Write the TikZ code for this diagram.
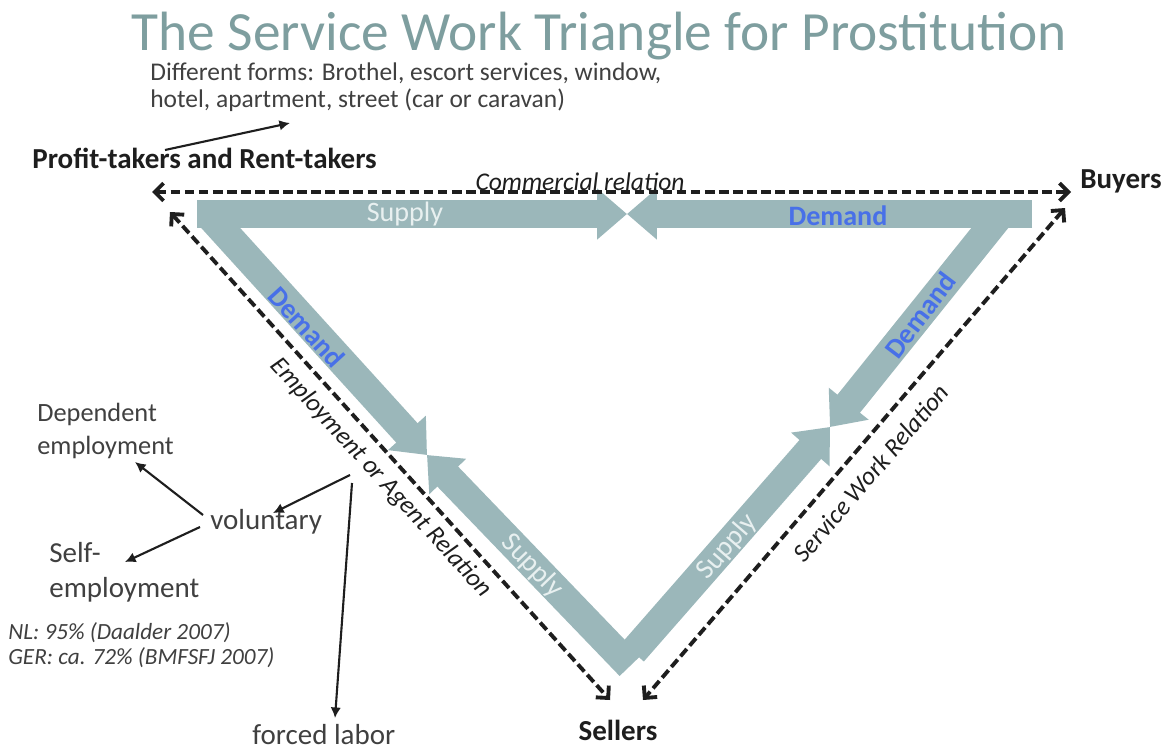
\documentclass[tikz,border=0pt]{standalone}
\usepackage{fontspec}
\setmainfont{Carlito}
\usetikzlibrary{arrows.meta}
\usetikzlibrary{positioning}

\definecolor{bandcol}{RGB}{155,183,186}
\definecolor{titlecol}{RGB}{126,158,159}
\definecolor{demandcol}{RGB}{72,112,232}
\definecolor{supplycol}{RGB}{232,240,240}
\definecolor{inkcol}{RGB}{30,30,30}

\tikzset{
  flow/.style={draw=bandcol, line width=16.4pt, -{Triangle[width=28pt,length=17pt]}},
  rel/.style={draw=inkcol, line width=2.2pt, dash pattern=on 5.5pt off 2.5pt,
    {Straight Barb[length=5pt,width=10pt]}-{Straight Barb[length=5pt,width=10pt]}},
  note/.style={draw=inkcol, line width=1.2pt, -{Latex[length=6pt,width=6pt]}},
  actor/.style={inner sep=0pt, text=inkcol, font=\bfseries\fontsize{16.5}{18}\selectfont},
  remark/.style={inner sep=0pt, text=inkcol!85, align=left},
  relname/.style={inner sep=0pt, text=inkcol, font=\itshape\fontsize{14.5}{16}\selectfont},
  dlabel/.style={inner sep=0pt, text=demandcol, font=\bfseries\fontsize{16}{18}\selectfont},
  slabel/.style={inner sep=0pt, text=supplycol, font=\fontsize{16}{18}\selectfont},
}

\begin{document}
\begin{tikzpicture}[x=0.02cm, y=-0.02cm]
  \fill[white] (0,0) rectangle (1168,753);
  \useasboundingbox (0,0) rectangle (1168,753);

  \node[inner sep=0pt, text=titlecol, font=\fontsize{31.5}{34}\selectfont] (title) at (599,36)
    {The Service Work Triangle for Prostitution} ; %

  % the three parties
  \node[actor, anchor=west] (profit) at (32,158) {Profit-takers and Rent-takers} ; %
  \node[actor, anchor=west] (buyers) at (1080,181) {Buyers} ; %
  \node[actor] (sellers) at (618,730) {Sellers} ; %
  \node[remark, anchor=west, font=\fontsize{14.5}{15.5}\selectfont] (forms) at (150,87)
    {Different forms: Brothel, escort services, window,\\hotel, apartment, street (car or caravan)} ; %

  % corners and meeting points of the bands
  \coordinate (tl) at (208,214);
  \coordinate (tr) at (1001,214);
  \coordinate (tm) at (627,214);
  \coordinate (tlb) at (197,214);
  \coordinate (trb) at (1032,214);
  \coordinate (lm) at (427,455);
  \coordinate (rm) at (830,427);
  \coordinate (bl) at (630,666);
  \coordinate (br) at (633,652);

  \draw[flow] (tlb) -- (tm);
  \draw[flow] (trb) -- (tm);
  \draw[flow] (tl) -- (lm);
  \draw[flow] (bl) -- (lm);
  \draw[flow] (tr) -- (rm);
  \draw[flow] (br) -- (rm);

  \node[slabel] (s1) at (405,214) {Supply} ; %
  \node[dlabel] (d1) at (838,216) {Demand} ; %
  \node[dlabel, rotate=-47.7] (d2) at (307,327) {Demand} ; %
  \node[slabel, rotate=-46] (s2) at (532,566) {Supply} ; %
  \node[dlabel, rotate=52.9] (d3) at (920,315) {Demand} ; %
  \node[slabel, rotate=49] (s3) at (727,547) {Supply} ; %

  % relations between the parties
  \coordinate (pa) at (152,192);
  \coordinate (pb) at (170,212);
  \coordinate (ba) at (1071,192);
  \coordinate (bb) at (1065,208);
  \coordinate (sa) at (610,700);
  \coordinate (sb) at (643,700);

  \draw[rel] (pa) -- (ba);
  \draw[rel] (pb) -- (sa);
  \draw[rel] (bb) -- (sb);

  \node[relname] (comm) at (580,182) {Commercial relation} ; %
  \node[relname, rotate=-47.5] (emp) at (381,478) {Employment or Agent Relation} ; %
  \node[relname, rotate=49.5] (serv) at (871,473) {Service Work Relation} ; %

  % kinds of employment
  \node[remark, anchor=west, font=\fontsize{15}{18.7}\selectfont] (dep) at (37,431)
    {Dependent\\employment} ; %
  \node[remark, anchor=west, font=\fontsize{16.5}{18}\selectfont] (vol) at (210,522) {voluntary} ; %
  \node[remark, anchor=west, font=\fontsize{16.5}{19.8}\selectfont] (self) at (49,572)
    {Self-\\employment} ; %
  \node[remark, anchor=west, font=\itshape\fontsize{13.2}{14}\selectfont] (share) at (8,645)
    {NL: 95\% (Daalder 2007)\\GER: ca. 72\% (BMFSFJ 2007)} ; %
  \node[remark, anchor=west, font=\fontsize{16.5}{18}\selectfont] (forced) at (252,735) {forced labor} ; %

  \coordinate (pt) at (165,150);
  \coordinate (fm) at (290,123);
  \coordinate (ea) at (350,475);
  \coordinate (eb) at (352,483);
  \coordinate (va) at (273,513);
  \coordinate (vb) at (203,515);
  \coordinate (vc) at (200,527);
  \coordinate (dp) at (135,462);
  \coordinate (se) at (125,562);
  \coordinate (fl) at (335,718);

  \draw[note] (pt) -- (fm);
  \draw[note] (ea) -- (va);
  \draw[note] (eb) -- (fl);
  \draw[note] (vb) -- (dp);
  \draw[note] (vc) -- (se);
\end{tikzpicture}
\end{document}
